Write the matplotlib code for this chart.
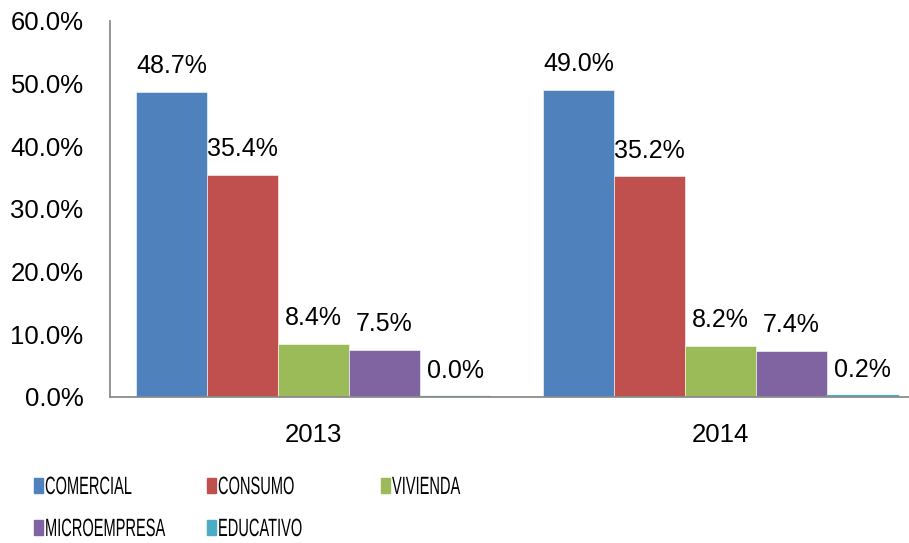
import matplotlib
matplotlib.use("Agg")
import matplotlib.pyplot as plt
from matplotlib.patches import Rectangle, PathPatch
from matplotlib.textpath import TextPath
from matplotlib.font_manager import FontProperties
from matplotlib.transforms import Affine2D, IdentityTransform
import numpy as np

# datos
years = ["2013", "2014"]
categories = ["COMERCIAL", "CONSUMO", "VIVIENDA", "MICROEMPRESA", "EDUCATIVO"]
comercial = [48.7, 49.0]
consumo = [35.4, 35.2]
vivienda = [8.4, 8.2]
microempresa = [7.5, 7.4]
educativo = [0.04, 0.2]
colors = ["#4F81BD", "#C0504D", "#9BBB59", "#8064A2", "#4BACC6"]

series = [comercial, consumo, vivienda, microempresa, educativo]

plt.rcParams['font.family'] = ['Liberation Sans', 'DejaVu Sans']

fig = plt.figure(figsize=(9.09, 5.43), dpi=100)
ax = fig.add_axes([110 / 909, 146 / 543, 814 / 909, 376 / 543])

x = np.arange(len(years))
w = 0.1745
for i, (vals, col) in enumerate(zip(series, colors)):
    # la serie EDUCATIVO casi no tiene altura: se dibuja con borde de su color
    ec = col if i == 4 else "white"
    lw = 1.6 if i == 4 else 0.4
    bars = ax.bar(x + (i - 2) * w, vals, width=w, color=col,
                  edgecolor=ec, linewidth=lw, label=categories[i])
    for b, v in zip(bars, vals):
        ax.annotate(f"{v:.1f}%", (b.get_x() + b.get_width() / 2, b.get_height()),
                    xytext=(0, 10), textcoords="offset points",
                    ha="center", va="bottom", fontsize=18)

ax.set_xlim(-0.5, 1.5)
ax.set_ylim(0, 60)
ax.set_yticks(range(0, 61, 10))
ax.set_yticklabels([f"{t:.1f}%" for t in range(0, 61, 10)])
ax.set_xticks(x)
ax.set_xticklabels(years)
ax.tick_params(axis="both", length=0, labelsize=18.5)
ax.tick_params(axis="y", pad=19)
ax.tick_params(axis="x", pad=19)

for s in ["top", "right"]:
    ax.spines[s].set_visible(False)
for s in ["left", "bottom"]:
    ax.spines[s].set_color("#8C8C8C")
    ax.spines[s].set_linewidth(1.3)

# leyenda manual (3 columnas, por filas), texto estrecho como en el original
fp = FontProperties(family="Liberation Sans")
col_x = [34, 207, 381]
row_y = [485, 527]
H = 543
for i, (name, col) in enumerate(zip(categories, colors)):
    r, c = divmod(i, 3)
    px = col_x[c]
    py = H - row_y[r]
    fig.patches.append(Rectangle((px, py - 7.5), 9, 15,
                                 transform=IdentityTransform(), color=col))
    tp = TextPath((0, 0), name, size=25, prop=fp)
    tr = Affine2D().scale(0.585, 1.0).translate(px + 11, py - 9)
    fig.patches.append(PathPatch(tr.transform_path(tp), color="black", lw=0,
                                 transform=IdentityTransform()))

fig.savefig("out.png", dpi=100)
